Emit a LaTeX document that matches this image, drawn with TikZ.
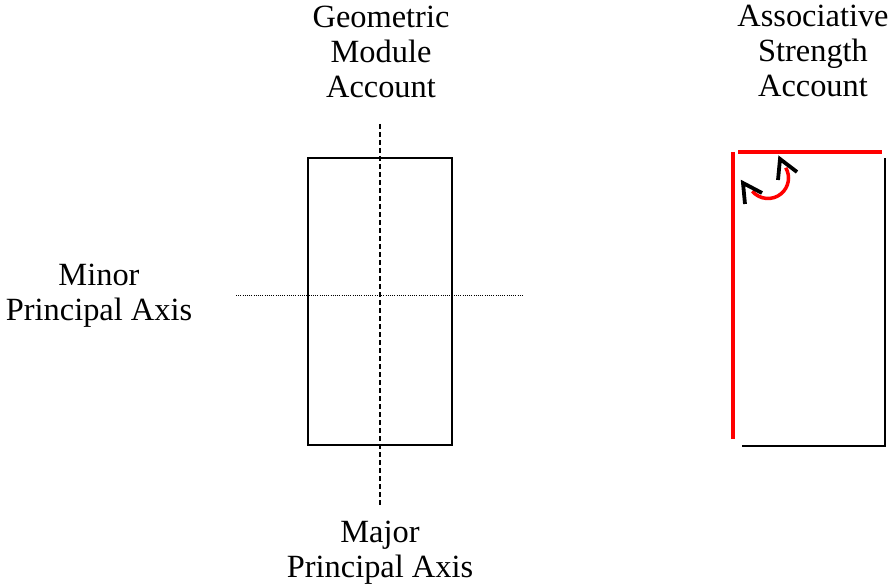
\documentclass[tikz,border=0pt]{standalone}
\usepackage{fontspec}
\setmainfont{Liberation Serif}
\begin{document}
\begin{tikzpicture}[x=1pt,y=-1pt,
  lbl/.style={align=center,inner sep=0pt,anchor=base,font=\fontsize{32.4}{35}\selectfont},
  thin/.style={line width=1.3pt,black},
  redline/.style={line width=3.5pt,red},
  chev/.style={line width=3.8pt,black}]
\useasboundingbox (0,0) rectangle (892,588);
% left figure
\node[lbl] (gma) at (381,98) {Geometric\\Module\\Account};
\node[lbl] (minor) at (99,320) {Minor\\Principal Axis};
\node[lbl] (major) at (380,577) {Major\\Principal Axis};
\draw[thin] (308,158) rectangle (452,445);
\draw[line width=1.3pt,dash pattern=on 5pt off 3pt] (380,124) -- (380,506);
\draw[line width=0.8pt,dash pattern=on 1pt off 1.2pt] (236,295) -- (523,295);
% right figure
\node[lbl] (asa) at (813,97) {Associative\\Strength\\Account};
\draw[thin] (742,446) -- (885,446) -- (885,158);
\draw[redline] (733,152) -- (733,439);
\draw[redline] (738,152) -- (882,152);
\draw[redline] (768,178) ++(140:20.5) arc[start angle=140,end angle=-30,radius=20.5];
\draw[chev] (762,193) -- (743,183) -- (745,204);
\draw[chev] (797,172) -- (780,159) -- (778,180);
\end{tikzpicture}
\end{document}
